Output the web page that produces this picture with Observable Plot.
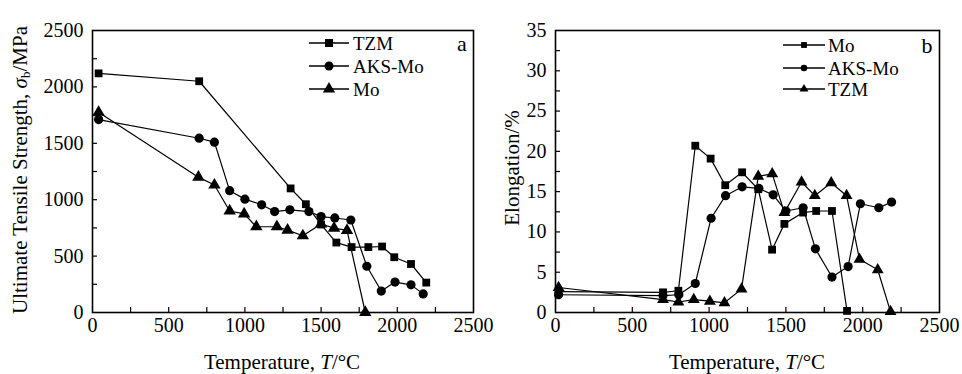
<!DOCTYPE html>
<html>
<head>
<meta charset="utf-8">
<script src="https://cdn.jsdelivr.net/npm/d3@7"></script>
<script src="https://cdn.jsdelivr.net/npm/@observablehq/plot@0.6"></script>
<style>
  html, body { margin: 0; padding: 0; background: #fff; }
  #wrap { position: relative; width: 962px; height: 374px; font-family: "Liberation Serif", "DejaVu Serif", serif; color: #000; }
  .panel { position: absolute; top: 0; }
  .panel svg { overflow: visible; }
  .panel svg text { font-family: "Liberation Serif", "DejaVu Serif", serif; }
  .title { position: absolute; font-size: 21px; white-space: nowrap; transform: translate(-50%, -50%); }
  .ytitle { position: absolute; font-size: 21px; white-space: nowrap; transform: translate(-50%, -50%) rotate(-90deg); }
  sub { font-size: 13px; vertical-align: -3px; line-height: 0; }
  #overlay { position: absolute; left: 0; top: 0; pointer-events: none; }
</style>
</head>
<body>
<div id="wrap">
  <div class="panel" id="pa" style="left:0"></div>
  <div class="panel" id="pb" style="left:481px"></div>
  <div class="title" style="left:282px; top:362px">Temperature, <i>T</i>/°C</div>
  <div class="title" style="left:747px; top:362px">Temperature, <i>T</i>/°C</div>
  <div class="ytitle" style="left:20px; top:170px">Ultimate Tensile Strength, <i>σ</i><sub>b</sub>/MPa</div>
  <div class="ytitle" style="left:512px; top:168px">Elongation/%</div>
</div>
<script>
// ---------- Panel a: Ultimate tensile strength (MPa) ----------
const tzmA_T = [40, 700, 1300, 1400, 1500, 1600, 1700, 1810, 1900, 1980, 2090, 2190];
const tzmA_S = [2120, 2050, 1100, 960, 780, 620, 580, 580, 585, 490, 430, 265];
const aksA_T = [40, 700, 800, 900, 1000, 1110, 1195, 1295, 1420, 1500, 1590, 1695, 1800, 1895, 1985, 2090, 2170];
const aksA_S = [1710, 1545, 1510, 1080, 1005, 955, 895, 910, 895, 850, 838, 820, 410, 190, 270, 245, 165];
const moA_T = [40, 695, 800, 900, 995, 1075, 1210, 1280, 1380, 1500, 1585, 1670, 1790];
const moA_S = [1775, 1200, 1130, 900, 875, 760, 760, 730, 680, 785, 748, 728, 0];

// ---------- Panel b: Elongation (%) ----------
const moB_T = [20, 700, 800, 910, 1010, 1105, 1215, 1320, 1410, 1490, 1612, 1697, 1800, 1898];
const moB_E = [2.6, 2.5, 2.7, 20.7, 19.1, 15.8, 17.4, 15.3, 7.8, 11.0, 12.4, 12.6, 12.6, 0.2];
const aksB_T = [20, 700, 803, 910, 1013, 1107, 1215, 1324, 1417, 1500, 1612, 1692, 1800, 1905, 1985, 2105, 2188];
const aksB_E = [2.2, 2.1, 2.2, 3.6, 11.7, 14.5, 15.6, 15.4, 14.6, 12.6, 13.0, 7.9, 4.4, 5.7, 13.5, 13.0, 13.7];
const tzmB_T = [20, 700, 800, 900, 1005, 1100, 1211, 1320, 1411, 1490, 1602, 1688, 1795, 1895, 1979, 2098, 2181];
const tzmB_E = [3.1, 1.6, 1.3, 1.6, 1.4, 1.2, 2.9, 16.9, 17.2, 12.4, 16.2, 14.5, 16.1, 14.5, 6.6, 5.3, 0.1];

const xMajor = [0, 500, 1000, 1500, 2000, 2500];
const xMinor = d3.range(250, 2500, 250);
const yMajorA = [0, 500, 1000, 1500, 2000, 2500];
const yMinorA = d3.range(250, 2500, 250);
const yMajorB = [0, 5, 10, 15, 20, 25, 30, 35];
const yMinorB = d3.range(2.5, 35, 2.5);

const legendA = ["TZM", "AKS-Mo", "Mo"];
const legendB = ["Mo", "AKS-Mo", "TZM"];

const serif = "Liberation Serif";
const zip = (xs, ys) => xs.map((x, i) => ({x, y: ys[i]}));
const plain = d => String(d);

function series(data, symbol, r) {
  return [
    Plot.line(data, {x: "x", y: "y", stroke: "black", strokeWidth: 1.2}),
    Plot.dot(data, {x: "x", y: "y", symbol: () => symbol, fill: "black", stroke: "none", r})
  ];
}

function axes(yMajor, yMinor) {
  return [
    Plot.axisX({ticks: xMinor, tickSize: 5, dy: -5, tickFormat: () => "", label: null, strokeWidth: 1.2}),
    Plot.axisX({ticks: xMajor, tickSize: 0, tickPadding: 5, tickFormat: plain, label: null, fontSize: 20, fontFamily: serif}),
    Plot.axisY({ticks: yMinor, tickSize: 5, dx: 5, tickFormat: () => "", label: null, strokeWidth: 1.2}),
    Plot.axisY({ticks: yMajor, tickSize: 0, tickPadding: 9, tickFormat: plain, label: null, fontSize: 20, fontFamily: serif}),
    Plot.frame({stroke: "black", strokeWidth: 1.6})
  ];
}

const common = {
  width: 481, height: 374,
  marginTop: 30, marginBottom: 62,
  style: {fontFamily: "'Liberation Serif', 'DejaVu Serif', serif", fontSize: "20px", color: "black", background: "transparent", overflow: "visible"},
  x: {domain: [0, 2500]}
};

const plotA = Plot.plot({
  ...common,
  marginLeft: 92, marginRight: 8,
  y: {domain: [0, 2500]},
  marks: [
    ...axes(yMajorA, yMinorA),
    ...series(zip(moA_T, moA_S), "triangle", 4.6),
    ...series(zip(aksA_T, aksA_S), "circle", 4.6),
    ...series(zip(tzmA_T, tzmA_S), "square", 4.4)
  ]
});
document.getElementById("pa").appendChild(plotA);

const plotB = Plot.plot({
  ...common,
  marginLeft: 74, marginRight: 23,
  y: {domain: [0, 35]},
  marks: [
    ...axes(yMajorB, yMinorB),
    ...series(zip(tzmB_T, tzmB_E), "triangle", 4.4),
    ...series(zip(aksB_T, aksB_E), "circle", 4.6),
    ...series(zip(moB_T, moB_E), "square", 4.4)
  ]
});
document.getElementById("pb").appendChild(plotB);

// ---------- Legends and panel letters ----------
const svg = d3.select("#wrap").append("svg")
  .attr("id", "overlay").attr("width", 962).attr("height", 374)
  .style("font-family", "'Liberation Serif', 'DejaVu Serif', serif");

function legend(names, symbols, x0, x1, tx, ys, size, fs) {
  names.forEach((name, i) => {
    const y = ys[i];
    svg.append("line").attr("x1", x0).attr("x2", x1).attr("y1", y).attr("y2", y)
      .attr("stroke", "black").attr("stroke-width", 1.4);
    svg.append("path")
      .attr("d", d3.symbol(symbols[i], size)())
      .attr("transform", `translate(${(x0 + x1) / 2},${y})`)
      .attr("fill", "black");
    svg.append("text").attr("x", tx).attr("y", y).attr("dy", "0.35em")
      .attr("font-size", fs).text(name);
  });
}
legend(legendA, [d3.symbolSquare, d3.symbolCircle, d3.symbolTriangle], 309, 349, 353, [43, 66, 89], 64, 19);
legend(legendB, [d3.symbolSquare, d3.symbolCircle, d3.symbolTriangle], 783, 825, 828, [45, 68, 89], 34, 19);

svg.append("text").attr("x", 462).attr("y", 43).attr("dy", "0.35em").attr("text-anchor", "middle")
  .attr("font-size", 22).text("a");
svg.append("text").attr("x", 927).attr("y", 45).attr("dy", "0.35em").attr("text-anchor", "middle")
  .attr("font-size", 22).text("b");
</script>
</body>
</html>
